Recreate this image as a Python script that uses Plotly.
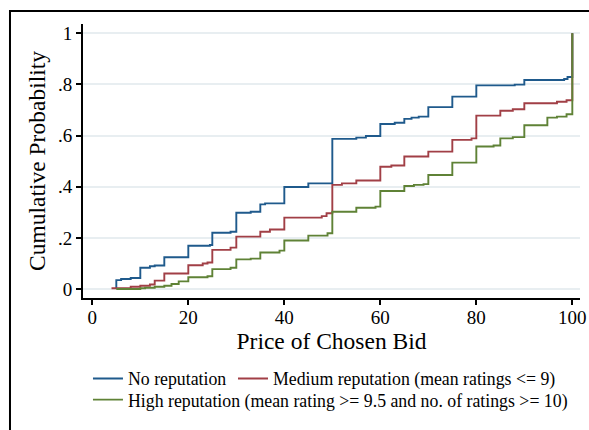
import plotly.graph_objects as go

# Empirical cumulative distribution of the price of the chosen bid, by seller reputation
no_rep_price = [5, 5, 6, 8, 10, 12, 13, 15, 20, 24.5, 25, 28.8, 30, 33, 35, 36, 40, 45, 50,
                55, 57, 60, 63, 65, 66.5, 68, 70, 75, 80, 88, 90, 98.3, 99, 100]
no_rep_cdf = [0, 0.035, 0.039, 0.043, 0.083, 0.089, 0.092, 0.124, 0.169, 0.172, 0.220, 0.224,
              0.298, 0.302, 0.331, 0.335, 0.399, 0.413, 0.587, 0.592, 0.598, 0.645, 0.650,
              0.665, 0.670, 0.674, 0.711, 0.752, 0.796, 0.799, 0.817, 0.821, 0.829, 1.0]

med_rep_price = [4, 8, 10, 12, 13, 15, 20, 23, 24, 25, 28.8, 30, 35, 37, 40, 47.8, 48.8, 50,
                 52, 55, 60, 62.3, 65, 70, 75, 79, 80, 85, 87.6, 90, 96.8, 98.8, 100]
med_rep_cdf = [0.003, 0.009, 0.013, 0.018, 0.033, 0.061, 0.093, 0.100, 0.104, 0.153, 0.162,
               0.205, 0.224, 0.233, 0.279, 0.285, 0.296, 0.407, 0.413, 0.424, 0.478, 0.483,
               0.518, 0.537, 0.583, 0.589, 0.678, 0.697, 0.703, 0.726, 0.732, 0.738, 1.0]

high_rep_price = [5, 10, 11, 13, 15, 16.5, 18, 20, 24, 25, 28.8, 30, 33, 35, 39, 40, 45, 49,
                  50, 55, 59, 60, 65, 67, 69, 70, 75, 80, 83.6, 85, 87.6, 90, 94.8, 96.8,
                  98.8, 100]
high_rep_cdf = [0, 0.003, 0.005, 0.009, 0.013, 0.020, 0.030, 0.046, 0.050, 0.078, 0.083,
                0.116, 0.119, 0.143, 0.150, 0.190, 0.209, 0.218, 0.302, 0.318, 0.322, 0.383,
                0.403, 0.407, 0.410, 0.446, 0.494, 0.557, 0.561, 0.589, 0.594, 0.640, 0.670,
                0.674, 0.683, 1.0]

series_names = ["No reputation",
                "Medium reputation (mean ratings <= 9)",
                "High reputation (mean rating >= 9.5 and no. of ratings >= 10)"]
series_colors = ["#1f5a8c", "#a13f46", "#5f8236"]

x_ticks = [0, 20, 40, 60, 80, 100]
y_ticks = [0, 0.2, 0.4, 0.6, 0.8, 1]
y_tick_text = ["0", ".2", ".4", ".6", ".8", "1"]

serif = "Liberation Serif, Times New Roman, serif"

fig = go.Figure()
# each key sits in its own legend box so the two-row key can be placed freely
data = [(no_rep_price, no_rep_cdf, "legend"),
        (med_rep_price, med_rep_cdf, "legend3"),
        (high_rep_price, high_rep_cdf, "legend2")]
for (px, cdf, lg), name, color in zip(data, series_names, series_colors):
    fig.add_trace(go.Scatter(
        x=px, y=cdf, mode="lines", name=name, legend=lg,
        line=dict(color=color, width=1.9, shape="hv"),
    ))

key_font = dict(size=17.8, family=serif)
fig.update_layout(
    width=589, height=430,
    margin=dict(l=83, r=9, t=24, b=132, autoexpand=False),
    paper_bgcolor="white", plot_bgcolor="white",
    font=dict(family=serif, color="black"),
    legend=dict(orientation="h", x=0.010, xanchor="left", y=-0.228, yanchor="top",
                font=key_font, bgcolor="rgba(0,0,0,0)"),
    legend3=dict(orientation="h", x=0.3018, xanchor="left", y=-0.228, yanchor="top",
                 font=key_font, bgcolor="rgba(0,0,0,0)"),
    legend2=dict(orientation="h", x=0.010, xanchor="left", y=-0.305, yanchor="top",
                 font=key_font, bgcolor="rgba(0,0,0,0)"),
    showlegend=True,
)

fig.update_xaxes(
    range=[-1.94, 101.6], tickvals=x_ticks, ticks="outside", ticklen=5, tickwidth=1.5,
    tickcolor="black", showline=True, linecolor="black", linewidth=2, showgrid=False,
    zeroline=False, tickfont=dict(size=19, family=serif), ticklabelstandoff=-4,
    title=dict(text="Price of Chosen Bid", font=dict(size=23.5, family=serif), standoff=0),
)
fig.update_yaxes(
    range=[-0.035, 1.036], tickvals=y_ticks, ticktext=y_tick_text, ticks="outside",
    ticklen=5, tickwidth=1.5, tickcolor="black", showline=True, linecolor="black",
    linewidth=2, showgrid=True, gridcolor="#e8eef1", gridwidth=1.5, zeroline=False,
    tickfont=dict(size=19, family=serif), tickangle=0,
    title=dict(text="Cumulative Probability", font=dict(size=23.5, family=serif), standoff=6),
)

# Outer frame around the graph region
fig.add_shape(type="rect", xref="paper", yref="paper",
              x0=-0.1469, x1=1.2, y0=1.0474, y1=-1.0,
              line=dict(color="black", width=2), fillcolor="rgba(0,0,0,0)", layer="above")

fig.write_html("out.html")
